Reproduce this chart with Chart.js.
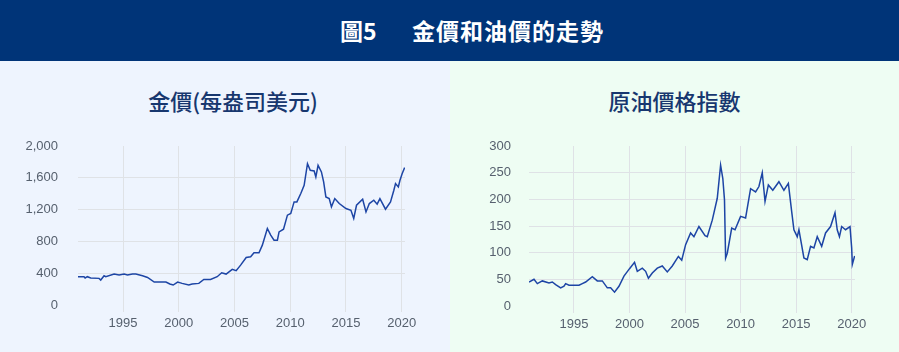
<!DOCTYPE html>
<html>
<head>
<meta charset="utf-8">
<script src="https://cdn.jsdelivr.net/npm/chart.js@4/dist/chart.umd.min.js"></script>
<style>
  html,body{margin:0;padding:0;}
  body{width:899px;height:352px;position:relative;overflow:hidden;font-family:"Noto Sans CJK TC","Noto Sans",sans-serif;}
  #banner{position:absolute;left:0;top:0;width:899px;height:61px;background:#003478;}
  #banner .t{position:absolute;top:0;height:61px;line-height:61px;color:#fff;font-size:23px;font-weight:700;white-space:nowrap;}
  .panel{position:absolute;top:61px;height:291px;}
  #pl{left:0;width:450px;background:#eef4fe;}
  #pr{left:450px;width:449px;background:#eefdf3;}
  .sub{position:absolute;top:24px;left:0;right:0;text-align:center;color:#17376f;font-size:22px;font-weight:500;line-height:30px;}
  canvas{position:absolute;left:0;top:0;}
</style>
</head>
<body>
<div id="banner"><span class="t" style="left:340px">圖5</span><span class="t" style="left:412px;letter-spacing:1px">金價和油價的走勢</span></div>
<div class="panel" id="pl"><div class="sub" style="left:16px">金價(每盎司美元)</div><canvas id="c1" width="450" height="291"></canvas></div>
<div class="panel" id="pr"><div class="sub">原油價格指數</div><canvas id="c2" width="449" height="291"></canvas></div>
<script>
// ---- data ----
const xTickYears = [1995, 2000, 2005, 2010, 2015, 2020];
const goldTicks = [0, 400, 800, 1200, 1600, 2000];
const oilTicks = [0, 50, 100, 150, 200, 250, 300];

const goldYears = [1990.96,1991.5,1991.6,1991.8,1992.1,1992.85,1993.0,1993.3,1993.45,1994.2,1994.65,1995.1,1995.4,1995.85,1996.15,1996.75,1997.2,1997.8,1998.85,1999.2,1999.5,1999.9,2000.3,2000.9,2001.2,2001.8,2002.25,2002.85,2003.45,2003.85,2004.25,2004.8,2005.15,2005.55,2006.05,2006.45,2006.75,2007.2,2007.5,2007.95,2008.25,2008.55,2008.85,2009.0,2009.4,2009.75,2010.05,2010.35,2010.6,2010.95,2011.25,2011.55,2011.8,2012.15,2012.3,2012.5,2012.8,2013.0,2013.2,2013.5,2013.7,2014.0,2014.4,2015.0,2015.45,2015.7,2015.95,2016.5,2016.8,2017.1,2017.5,2017.8,2018.05,2018.55,2019.0,2019.3,2019.45,2019.7,2019.85,2020.05,2020.27];
const goldPrice = [356,356,340,356,340,335,314,368,356,389,377,389,377,389,389,368,347,289,289,264,251,289,272,251,264,272,322,322,356,406,389,448,431,502,598,607,657,657,753,962,879,816,816,920,954,1130,1151,1297,1297,1402,1506,1778,1695,1686,1611,1757,1674,1548,1360,1339,1234,1339,1276,1213,1192,1088,1255,1330,1171,1276,1318,1268,1339,1205,1297,1443,1527,1485,1569,1653,1728];

const oilYears = [1990.95,1991.4,1991.7,1992.15,1992.75,1993.05,1993.35,1993.8,1994.1,1994.25,1994.55,1995.45,1995.75,1996.05,1996.65,1997.1,1997.55,1998.0,1998.3,1998.65,1999.05,1999.5,2000.0,2000.45,2000.7,2001.15,2001.45,2001.7,2002.05,2002.5,2002.95,2003.4,2003.85,2004.4,2004.7,2005.05,2005.5,2005.8,2006.25,2006.8,2007.0,2007.45,2007.9,2008.2,2008.4,2008.55,2008.65,2008.8,2009.2,2009.5,2010.0,2010.45,2010.9,2011.35,2011.65,2011.95,2012.2,2012.5,2012.9,2013.45,2013.9,2014.3,2014.6,2014.8,2015.1,2015.25,2015.7,2016.0,2016.3,2016.6,2016.9,2017.3,2017.65,2018.1,2018.5,2018.7,2018.9,2019.1,2019.45,2019.85,2020.0,2020.06,2020.27];
const oilIndex = [45,50,42,47,43,45,40,34,37,42,39,39,42,45,55,47,47,34,34,26,37,56,70,82,65,71,65,52,62,71,75,64,75,93,86,115,137,130,149,132,130,161,202,264,239,199,90,99,146,143,168,165,220,214,224,250,196,227,217,233,217,230,177,143,130,143,90,87,112,109,130,112,137,149,175,143,130,149,143,149,109,78,94];

const LINE = '#1d45a5';
const GRID = '#dfe2e6';
const TICKC = '#56606e';
const TICKFONT = {family:'"Liberation Sans", Arial, sans-serif', size:13};

function pts(xs, ys){ return xs.map((x,i)=>({x:x, y:ys[i]})); }

function makeChart(id, xs, ys, yTicks, opt){
  const ymax = yTicks[yTicks.length-1];
  return new Chart(document.getElementById(id), {
    type:'line',
    data:{datasets:[{data:pts(xs,ys), borderColor:LINE, borderWidth:1.5, pointRadius:0, tension:0, fill:false}]},
    options:{
      responsive:false, animation:false,
      layout:{padding:{top:opt.top, right:opt.right, left:0, bottom:0}},
      plugins:{legend:{display:false}, tooltip:{enabled:false}, title:{display:false}},
      scales:{
        x:{type:'linear', min:opt.xmin, max:opt.xmax,
           afterBuildTicks:s=>{s.ticks = xTickYears.map(v=>({value:v}));},
           afterFit:s=>{s.height = opt.xh;},
           grid:{color:GRID, lineWidth:1, drawTicks:true, tickLength:7, tickColor:GRID},
           border:{display:false},
           ticks:{color:TICKC, font:TICKFONT, padding:4, maxRotation:0, autoSkip:false, callback:v=>String(v)}},
        y:{type:'linear', min:0, max:ymax,
           afterBuildTicks:s=>{s.ticks = yTicks.map(v=>({value:v}));},
           afterFit:s=>{s.width = opt.yw;},
           grid:{color:c=> (c.tick && (c.tick.value===0 || c.tick.value===ymax)) ? 'rgba(0,0,0,0)' : GRID, lineWidth:1, drawTicks:false},
           border:{display:false},
           ticks:{color:TICKC, font:TICKFONT, padding:opt.ypad, callback:v=>Number(v).toLocaleString('en-US')}}
      }
    }
  });
}

makeChart('c1', goldYears, goldPrice, goldTicks, {top:85, right:45, xh:47, yw:78, ypad:20, xmin:1990.96, xmax:2020.3});
makeChart('c2', oilYears, oilIndex, oilTicks, {top:85, right:44, xh:46, yw:79, ypad:18, xmin:1990.95, xmax:2020.3});
</script>
</body>
</html>
